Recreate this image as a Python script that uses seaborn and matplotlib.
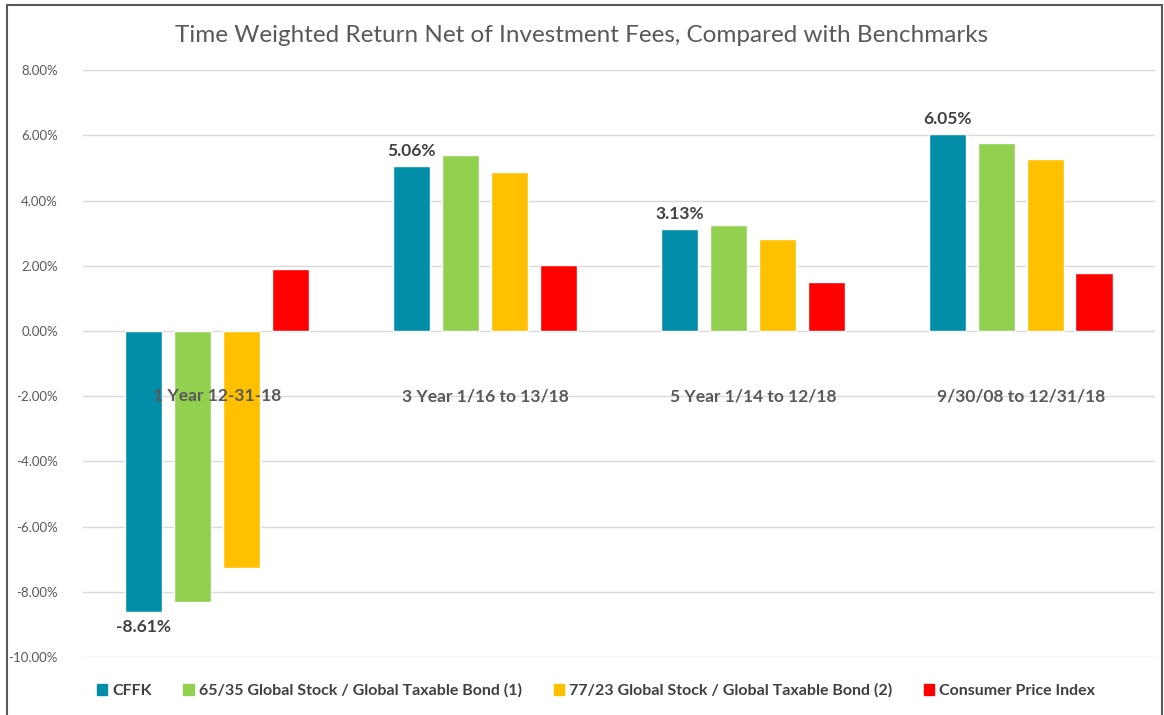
import matplotlib
matplotlib.use("Agg")
import matplotlib.pyplot as plt
import pandas as pd
import seaborn as sns
from matplotlib.patches import Rectangle
from matplotlib.ticker import FuncFormatter

# Chart data (percent)
periods = ["1 Year 12-31-18", "3 Year 1/16 to 13/18", "5 Year 1/14 to 12/18", "9/30/08 to 12/31/18"]
series = ["CFFK", "65/35 Global Stock / Global Taxable Bond (1)",
          "77/23 Global Stock / Global Taxable Bond (2)", "Consumer Price Index"]
cffk = [-8.61, 5.06, 3.13, 6.05]
mix_65_35 = [-8.31, 5.40, 3.25, 5.76]
mix_77_23 = [-7.27, 4.88, 2.83, 5.27]
cpi = [1.91, 2.03, 1.50, 1.79]
colors = ["#028EA9", "#92D050", "#FFC000", "#FF0000"]

rows = []
for name, vals in zip(series, [cffk, mix_65_35, mix_77_23, cpi]):
    for p, v in zip(periods, vals):
        rows.append({"period": p, "series": name, "value": v})
df = pd.DataFrame(rows)

sns.set_style("white")
plt.rcParams['font.family'] = ['Lato', 'DejaVu Sans']

fig = plt.figure(figsize=(11.64, 7.15), dpi=100)
ax = fig.add_axes([0.0713, 0.0811, 0.9207, 0.8209])

sns.barplot(data=df, x="period", y="value", hue="series", order=periods,
            hue_order=series, palette=colors, width=0.73, gap=0.24,
            saturation=1, errorbar=None, legend=False, ax=ax)

ax.set_ylim(-10, 8)
ax.set_yticks(range(-10, 9, 2))
ax.yaxis.set_major_formatter(FuncFormatter(lambda v, _: f"{v:.2f}%"))
ax.tick_params(axis="y", labelsize=9.5, colors="#595959", length=0, pad=18)
ax.set_xticks([])
ax.set_xlabel("")
ax.set_ylabel("")
ax.grid(axis="y", color="#d9d9d9", linewidth=1)
ax.set_axisbelow(True)
for s in ax.spines.values():
    s.set_visible(False)

# category labels sit at the -2% line
for i, p in enumerate(periods):
    ax.text(i, -2.0, p, ha="center", va="center", fontsize=12.5,
            fontweight="bold", color="#595959")

# labels on CFFK bars only
ax.bar_label(ax.containers[0], labels=[f"{v:.2f}%" for v in cffk],
             padding=5, fontsize=12.5, fontweight="bold", color="#404040")

fig.suptitle("Time Weighted Return Net of Investment Fees, Compared with Benchmarks",
             y=0.965, fontsize=17.5, color="#595959", fontweight="normal")

handles = [Rectangle((0, 0), 1, 1, color=c) for c in colors]
fig.legend(handles, series, loc="center", bbox_to_anchor=(0.512, 0.034), ncol=4,
           frameon=False, handlelength=0.65, handleheight=0.65, handletextpad=0.3,
           columnspacing=2.0, prop={"size": 11.5, "weight": "bold"}, labelcolor="#404040")

# outer border of the chart
fig.patches.append(Rectangle((0.006, -0.01), 0.992, 1.003, transform=fig.transFigure,
                             fill=False, edgecolor="#595959", linewidth=1.5))

fig.savefig("out.png", dpi=100)
